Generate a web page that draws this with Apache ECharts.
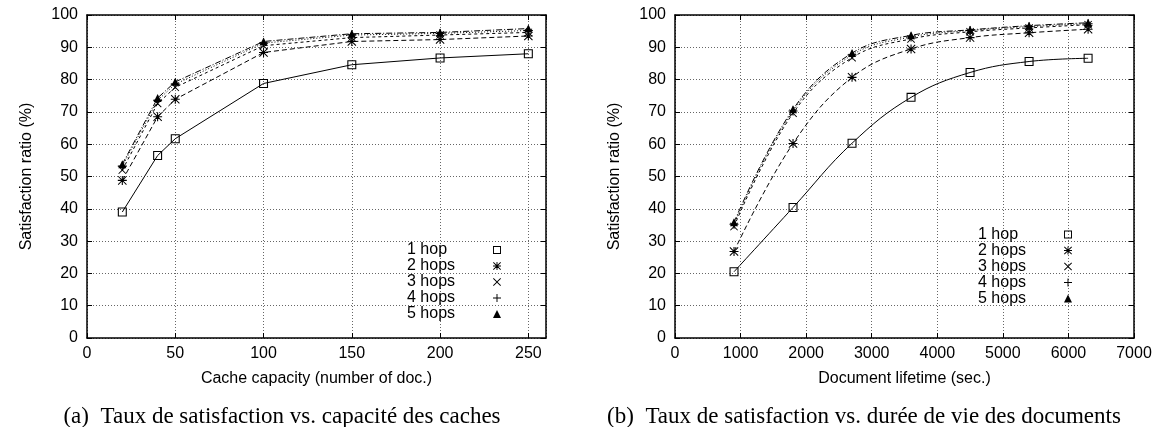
<!DOCTYPE html>
<html>
<head>
<meta charset="utf-8">
<script src="https://cdn.jsdelivr.net/npm/echarts@6/dist/echarts.min.js"></script>
<style>
  html, body { margin: 0; padding: 0; background: #fff; }
  #chart { width: 1162px; height: 427px; }
</style>
</head>
<body>
<div id="chart"></div>
<script>
// (a) satisfaction vs cache capacity
const capacity = [20, 40, 50, 100, 150, 200, 250];
const capHop1 = [39.0, 56.5, 61.7, 78.8, 84.6, 86.7, 88.0];
const capHop2 = [48.8, 68.5, 73.9, 88.4, 91.8, 92.4, 93.5];
const capHop3 = [52.0, 72.6, 77.6, 90.5, 93.0, 93.8, 94.6];
const capHop4 = [53.2, 73.6, 78.6, 91.3, 93.8, 94.3, 95.2];
const capHop5 = [53.8, 74.3, 79.3, 91.8, 94.2, 94.6, 95.8];

// (b) satisfaction vs document lifetime
const lifetime = [900, 1800, 2700, 3600, 4500, 5400, 6300];
const lifeHop1 = [20.5, 40.4, 60.3, 74.5, 82.2, 85.6, 86.6];
const lifeHop2 = [26.8, 60.2, 80.7, 89.5, 93.0, 94.5, 95.6];
const lifeHop3 = [34.5, 69.6, 86.8, 92.6, 94.8, 96.0, 97.0];
const lifeHop4 = [35.2, 70.3, 87.6, 93.2, 95.2, 96.4, 97.3];
const lifeHop5 = [35.8, 70.8, 88.2, 93.7, 95.4, 96.7, 97.6];

const hopNames = ['1 hop', '2 hops', '3 hops', '4 hops', '5 hops'];

const SANS = 'Liberation Sans, Arial, sans-serif';
const SERIF = 'Liberation Serif, Times New Roman, serif';

// gnuplot-like point types
const SQUARE = 'path://M0,0H10V10H0Z M1.2,1.2V8.8H8.8V1.2Z';
const PLUS = 'path://M4.4,0H5.6V4.4H10V5.6H5.6V10H4.4V5.6H0V4.4H4.4Z';
const CROSS = 'path://M0.8,0L5,4.2L9.2,0L10,0.8L5.8,5L10,9.2L9.2,10L5,5.8L0.8,10L0,9.2L4.2,5L0,0.8Z';
const ASTER = 'path://M4.4,0H5.6V4.4H10V5.6H5.6V10H4.4V5.6H0V4.4H4.4Z M0.8,0L5,4.2L9.2,0L10,0.8L5.8,5L10,9.2L9.2,10L5,5.8L0.8,10L0,9.2L4.2,5L0,0.8Z';
const symbols = [SQUARE, ASTER, CROSS, PLUS, 'triangle'];
const symbolSizes = [9, 9, 8, 9, 8];
const dashes = ['solid', [5, 3], [3, 3], [1, 2], [6, 2, 1, 2]];

var chart = echarts.init(document.getElementById('chart'));

function makeSeries(idx, xs, ys, axisIdx, smooth) {
  return {
    type: 'line',
    name: hopNames[idx],
    xAxisIndex: axisIdx * 2,
    yAxisIndex: axisIdx * 2,
    data: xs.map((x, i) => [x, ys[i]]),
    symbol: symbols[idx],
    symbolSize: symbolSizes[idx],
    smooth: smooth,
    lineStyle: { color: '#000', width: 1, type: dashes[idx] },
    itemStyle: { color: '#000' },
    emphasis: { disabled: true },
    silent: true,
    z: 3 + idx,
  };
}

function mainX(grid, min, max, interval, name) {
  return {
    gridIndex: grid, type: 'value', position: 'bottom',
    min: min, max: max, interval: interval,
    name: name, nameLocation: 'middle', nameGap: 33,
    nameTextStyle: { fontFamily: SANS, fontSize: 16, color: '#000' },
    axisLine: { show: true, onZero: false, lineStyle: { color: '#000', width: 1.5 } },
    axisTick: { show: true, inside: true, length: 5, lineStyle: { color: '#000', width: 1 } },
    axisLabel: {
      margin: 8, fontFamily: SANS, fontSize: 16, color: '#000',
      showMaxLabel: max % interval === 0,
      formatter: (v) => String(v),
    },
    splitLine: { show: true, lineStyle: { color: '#666', width: 1, type: [1, 2] } },
  };
}
function mirrorX(grid, min, max, interval) {
  return {
    gridIndex: grid, type: 'value', position: 'top',
    min: min, max: max, interval: interval,
    axisLine: { show: true, onZero: false, lineStyle: { color: '#000', width: 1.5 } },
    axisTick: { show: true, inside: true, length: 5, lineStyle: { color: '#000', width: 1 } },
    axisLabel: { show: false },
    splitLine: { show: false },
  };
}
function mainY(grid) {
  return {
    gridIndex: grid, type: 'value', position: 'left',
    min: 0, max: 100, interval: 10,
    name: 'Satisfaction ratio (%)', nameLocation: 'middle', nameGap: 52,
    nameTextStyle: { fontFamily: SANS, fontSize: 16, color: '#000' },
    axisLine: { show: true, onZero: false, lineStyle: { color: '#000', width: 1.5 } },
    axisTick: { show: true, inside: true, length: 5, lineStyle: { color: '#000', width: 1 } },
    axisLabel: { margin: 9, fontFamily: SANS, fontSize: 16, color: '#000' },
    splitLine: { show: true, lineStyle: { color: '#666', width: 1, type: [1, 2] } },
  };
}
function mirrorY(grid) {
  return {
    gridIndex: grid, type: 'value', position: 'right',
    min: 0, max: 100, interval: 10,
    axisLine: { show: true, onZero: false, lineStyle: { color: '#000', width: 1.5 } },
    axisTick: { show: true, inside: true, length: 5, lineStyle: { color: '#000', width: 1 } },
    axisLabel: { show: false },
    splitLine: { show: false },
  };
}
// key: label first, point symbol in a column on the right
function makeLegend(left, top) {
  return {
    orient: 'vertical', left: left, top: top, padding: 0,
    itemGap: 0, itemWidth: 8, itemHeight: 8, align: 'right',
    selectedMode: false,
    data: hopNames.map((n, i) => ({ name: n, icon: symbols[i] })),
    formatter: '{t|{name}}',
    textStyle: {
      rich: { t: { width: 81, align: 'left', fontFamily: SANS, fontSize: 16, color: '#000', lineHeight: 16.5 } },
    },
  };
}

const capData = [capHop1, capHop2, capHop3, capHop4, capHop5];
const lifeData = [lifeHop1, lifeHop2, lifeHop3, lifeHop4, lifeHop5];

const option = {
  backgroundColor: '#fff',
  animation: false,
  grid: [
    { left: 87, top: 15, width: 459, height: 323 },
    { left: 675, top: 15, width: 459, height: 323 },
  ],
  xAxis: [
    mainX(0, 0, 260, 50, 'Cache capacity (number of doc.)'),
    mirrorX(0, 0, 260, 50),
    mainX(1, 0, 7000, 1000, 'Document lifetime (sec.)'),
    mirrorX(1, 0, 7000, 1000),
  ],
  yAxis: [mainY(0), mirrorY(0), mainY(1), mirrorY(1)],
  legend: [makeLegend(407, 242), makeLegend(978, 226.5)],
  graphic: [
    {
      type: 'text', x: 282, y: 417,
      style: { text: '(a)  Taux de satisfaction vs. capacité des caches', font: '23px ' + SERIF, fill: '#000', align: 'center', verticalAlign: 'middle' },
    },
    {
      type: 'text', x: 864, y: 417,
      style: { text: '(b)  Taux de satisfaction vs. durée de vie des documents', font: '23px ' + SERIF, fill: '#000', align: 'center', verticalAlign: 'middle' },
    },
  ],
  series: [
    ...capData.map((ys, i) => makeSeries(i, capacity, ys, 0, false)),
    ...lifeData.map((ys, i) => makeSeries(i, lifetime, ys, 1, 0.4)),
  ],
};
chart.setOption(option);
</script>
</body>
</html>
